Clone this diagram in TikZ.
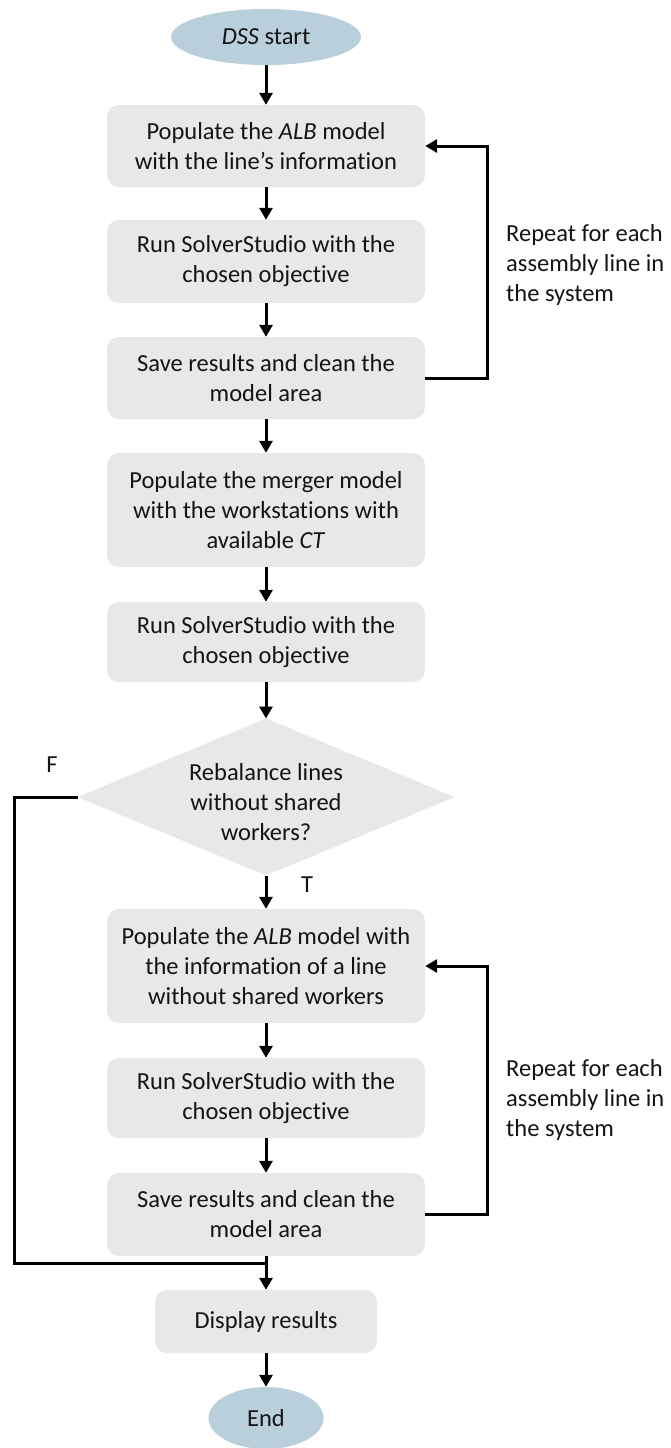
\documentclass[tikz,border=0pt]{standalone}
\usepackage{fontspec}
\setmainfont{Carlito}[Ligatures=NoCommon]
\usetikzlibrary{shapes.geometric,arrows.meta}

\definecolor{boxfill}{RGB}{232,232,232}
\definecolor{termfill}{RGB}{185,207,219}
\definecolor{ink}{RGB}{20,20,20}

\tikzset{
  every node/.style={font=\fontsize{24.5}{30}\selectfont, text=ink},
  stepbox/.style={rectangle, rounded corners=12pt, fill=boxfill, draw=none,
    align=center, inner sep=0pt, minimum width=318pt},
  terminal/.style={ellipse, fill=termfill, draw=none, inner sep=0pt},
  decision/.style={diamond, fill=boxfill, draw=none, inner sep=0pt, outer sep=0pt,
    minimum width=377pt, minimum height=157pt},
  note/.style={align=left, anchor=west, inner sep=0pt},
  flow/.style={line width=3pt, draw=black, -{Triangle[width=13pt,length=12pt]}},
  plain/.style={line width=3pt, draw=black},
}

\begin{document}
\begin{tikzpicture}[x=1pt,y=-1pt]
  \useasboundingbox (0,0) rectangle (670,1448);

  % terminals and process steps
  \node[terminal, minimum width=190pt, minimum height=56pt] (start) at (266,37) {\textit{DSS} start};
  \node[stepbox, minimum height=82pt] (b1) at (266,146) {Populate the \textit{ALB} model\\with the line’s information};
  \node[stepbox, minimum height=83pt] (b2) at (266,261.5) {Run SolverStudio with the\\chosen objective};
  \node[stepbox, minimum height=82pt] (b3) at (266,378) {Save results and clean the\\model area};
  \node[stepbox, minimum height=114pt] (b4) at (266,510) {Populate the merger model\\with the workstations with\\available \textit{CT}};
  \node[stepbox, minimum height=80pt] (b5) at (266,642) {Run SolverStudio with the\\chosen objective};

  % decision
  \node[decision] (dec) at (266,797) {};
  \node[align=center, inner sep=0pt] (dectext) at (266,802) {Rebalance lines\\without shared\\workers?};

  \node[stepbox, minimum height=114pt] (b6) at (266,966) {Populate the \textit{ALB} model with\\the information of a line\\without shared workers};
  \node[stepbox, minimum height=80pt] (b7) at (266,1098) {Run SolverStudio with the\\chosen objective};
  \node[stepbox, minimum height=83pt] (b8) at (266,1214.5) {Save results and clean the\\model area};
  \node[stepbox, minimum width=222pt, minimum height=63pt] (disp) at (266,1321.5) {Display results};
  \node[terminal, minimum width=115pt, minimum height=62pt] (end) at (266,1418) {End};

  % labels
  \node[inner sep=0pt] (lblF) at (52,765) {F};
  \node[inner sep=0pt] (lblT) at (307,885) {T};
  \node[note] (rep1) at (506,265) {Repeat for each\\assembly line in\\the system};
  \node[note] (rep2) at (506,1100) {Repeat for each\\assembly line in\\the system};

  % main flow
  \draw[flow] (start) -- (b1);
  \draw[flow] (b1) -- (b2);
  \draw[flow] (b2) -- (b3);
  \draw[flow] (b3) -- (b4);
  \draw[flow] (b4) -- (b5);
  \draw[flow] (b5) -- (dec.north);
  \draw[flow] (dec.south) -- (b6);
  \draw[flow] (b6) -- (b7);
  \draw[flow] (b7) -- (b8);

  % merge point above the results step
  \coordinate (join) at (266,1263);
  \draw[plain] (b8.south) -- (join);
  \draw[flow] (join) -- (disp);
  \draw[flow] (disp) -- (end);

  % repeat loops
  \draw[flow] (b3.east) -- ++(62,0) |- (b1.east);
  \draw[flow] (b8.east) -- ++(62,0) |- (b6.east);

  % false branch
  \draw[plain] (dec.west) -- (14,797) |- (join);
\end{tikzpicture}
\end{document}
